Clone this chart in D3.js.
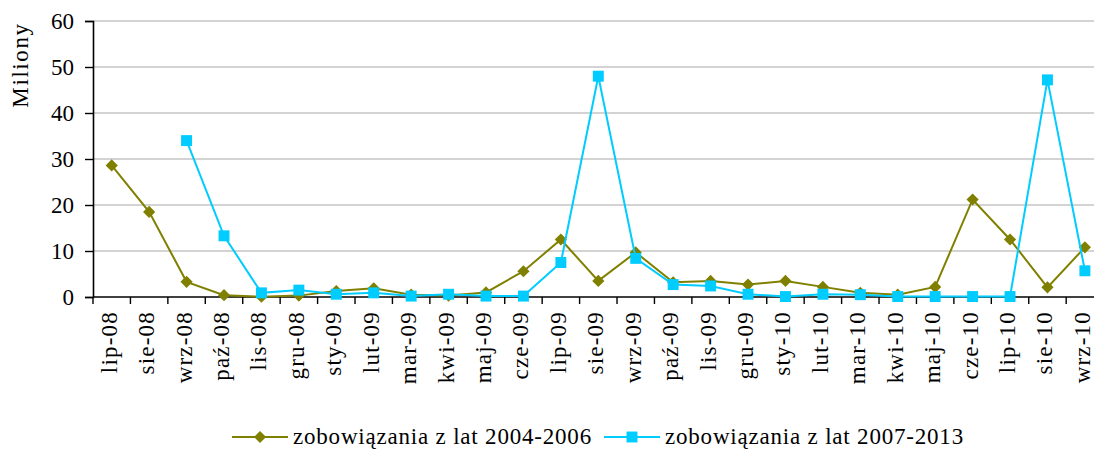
<!DOCTYPE html>
<html>
<head>
<meta charset="utf-8">
<script src="https://cdn.jsdelivr.net/npm/d3@7"></script>
<style>
  body { margin: 0; background: #fff; }
  text { font-family: "Liberation Serif", "Times New Roman", serif; fill: #000; }
</style>
</head>
<body>
<div id="chart"></div>
<script>
// months on the x axis
var months = ["lip-08", "sie-08", "wrz-08", "paź-08", "lis-08", "gru-08", "sty-09", "lut-09", "mar-09",
    "kwi-09", "maj-09", "cze-09", "lip-09", "sie-09", "wrz-09", "paź-09", "lis-09", "gru-09",
    "sty-10", "lut-10", "mar-10", "kwi-10", "maj-10", "cze-10", "lip-10", "sie-10", "wrz-10"];

// zobowiazania z lat 2004-2006 (mln)
var values0406 = [28.6, 18.5, 3.3, 0.4, 0.05, 0.3, 1.3, 1.9, 0.5, 0.3, 1.0, 5.6, 12.5, 3.5, 9.7,
    3.2, 3.5, 2.7, 3.5, 2.2, 0.9, 0.5, 2.2, 21.2, 12.5, 2.1, 10.8];

// zobowiazania z lat 2007-2013 (mln), no data for first two months
var values0713 = [null, null, 34.0, 13.3, 0.9, 1.5, 0.6, 0.9, 0.2, 0.6, 0.2, 0.2, 7.5, 48.0, 8.4,
    2.7, 2.4, 0.6, 0.1, 0.6, 0.5, 0.1, 0.1, 0.1, 0.1, 47.2, 5.7];

var yTicks = [0, 10, 20, 30, 40, 50, 60];

var seriesNames = ["zobowiązania z lat 2004-2006", "zobowiązania z lat 2007-2013"];
var colors = ["#808000", "#00CCFF"];

var width = 1094, height = 449;

var svg = d3.select("#chart").append("svg")
    .attr("width", width)
    .attr("height", height);

var x = d3.scaleBand()
    .domain(months)
    .range([93, 93 + months.length * 37.43]);

var y = d3.scaleLinear()
    .domain([0, 60])
    .range([297, 21]);

// horizontal grid lines
svg.append("g")
    .selectAll("line")
    .data(yTicks.filter(d => d > 0))
    .enter()
    .append("line")
    .attr("x1", 93)
    .attr("x2", width)
    .attr("y1", d => y(d))
    .attr("y2", d => y(d))
    .style("stroke", "#c4c4c4")
    .style("stroke-width", 1.6);

// y axis
var yAxis = svg.append("g")
    .attr("transform", "translate(93,0)")
    .call(d3.axisLeft(y).tickValues(yTicks).tickSize(8).tickPadding(11));
yAxis.select(".domain").style("stroke", "#000").style("stroke-width", 1.6);
yAxis.selectAll(".tick line").style("stroke", "#000").style("stroke-width", 1.4);
yAxis.selectAll(".tick text")
    .style("font-size", "23px")
    .style("font-family", "Liberation Serif")
    .attr("dy", "0.34em");

// y axis title
svg.append("text")
    .attr("transform", "translate(28,65) rotate(-90)")
    .attr("text-anchor", "middle")
    .style("font-size", "23px")
    .style("letter-spacing", "1.6px")
    .text("Miliony");

// x axis line and tick marks at the category boundaries
svg.append("line")
    .attr("x1", 93).attr("x2", width)
    .attr("y1", y(0)).attr("y2", y(0))
    .style("stroke", "#000").style("stroke-width", 1.6);

svg.append("g")
    .selectAll("line")
    .data(months)
    .enter()
    .append("line")
    .attr("x1", d => x(d))
    .attr("x2", d => x(d))
    .attr("y1", y(0))
    .attr("y2", y(0) + 7)
    .style("stroke", "#000")
    .style("stroke-width", 1.4);

// rotated month labels
svg.append("g")
    .selectAll("text")
    .data(months)
    .enter()
    .append("text")
    .attr("transform", d => "translate(" + (x(d) + x.bandwidth() / 2 + 5) + ",311) rotate(-90)")
    .attr("text-anchor", "end")
    .style("font-size", "23px")
    .style("letter-spacing", "1.2px")
    .text(d => d);

var cx = d => x(d) + x.bandwidth() / 2;

function drawSeries(values, color, marker) {
    var pts = months.map((m, i) => ({ m: m, v: values[i] }));

    var line = d3.line()
        .defined(d => d.v !== null)
        .x(d => cx(d.m))
        .y(d => y(d.v));

    svg.append("path")
        .datum(pts)
        .attr("d", line)
        .style("fill", "none")
        .style("stroke", color)
        .style("stroke-width", 2);

    svg.append("g")
        .selectAll("path")
        .data(pts.filter(d => d.v !== null))
        .enter()
        .append("path")
        .attr("transform", d => "translate(" + cx(d.m) + "," + y(d.v) + ")")
        .attr("d", marker)
        .style("fill", color);
}

var diamond = d3.symbol().type(d3.symbolDiamond2).size(95)();
var square = d3.symbol().type(d3.symbolSquare).size(120)();

drawSeries(values0406, colors[0], diamond);
drawSeries(values0713, colors[1], square);

// legend
var legendItems = [
    { name: seriesNames[0], color: colors[0], marker: diamond, x0: 232 },
    { name: seriesNames[1], color: colors[1], marker: square, x0: 604 }
];

var lg = svg.append("g")
    .selectAll("g")
    .data(legendItems)
    .enter()
    .append("g")
    .attr("transform", d => "translate(" + d.x0 + ",437)");

lg.append("line")
    .attr("x1", 0).attr("x2", 56)
    .attr("y1", 0).attr("y2", 0)
    .style("stroke", d => d.color)
    .style("stroke-width", 2);

lg.append("path")
    .attr("transform", "translate(28,0)")
    .attr("d", d => d.marker)
    .style("fill", d => d.color);

lg.append("text")
    .attr("x", 61)
    .attr("y", 7)
    .style("font-size", "23px")
    .style("letter-spacing", "0.8px")
    .text(d => d.name);
</script>
</body>
</html>
